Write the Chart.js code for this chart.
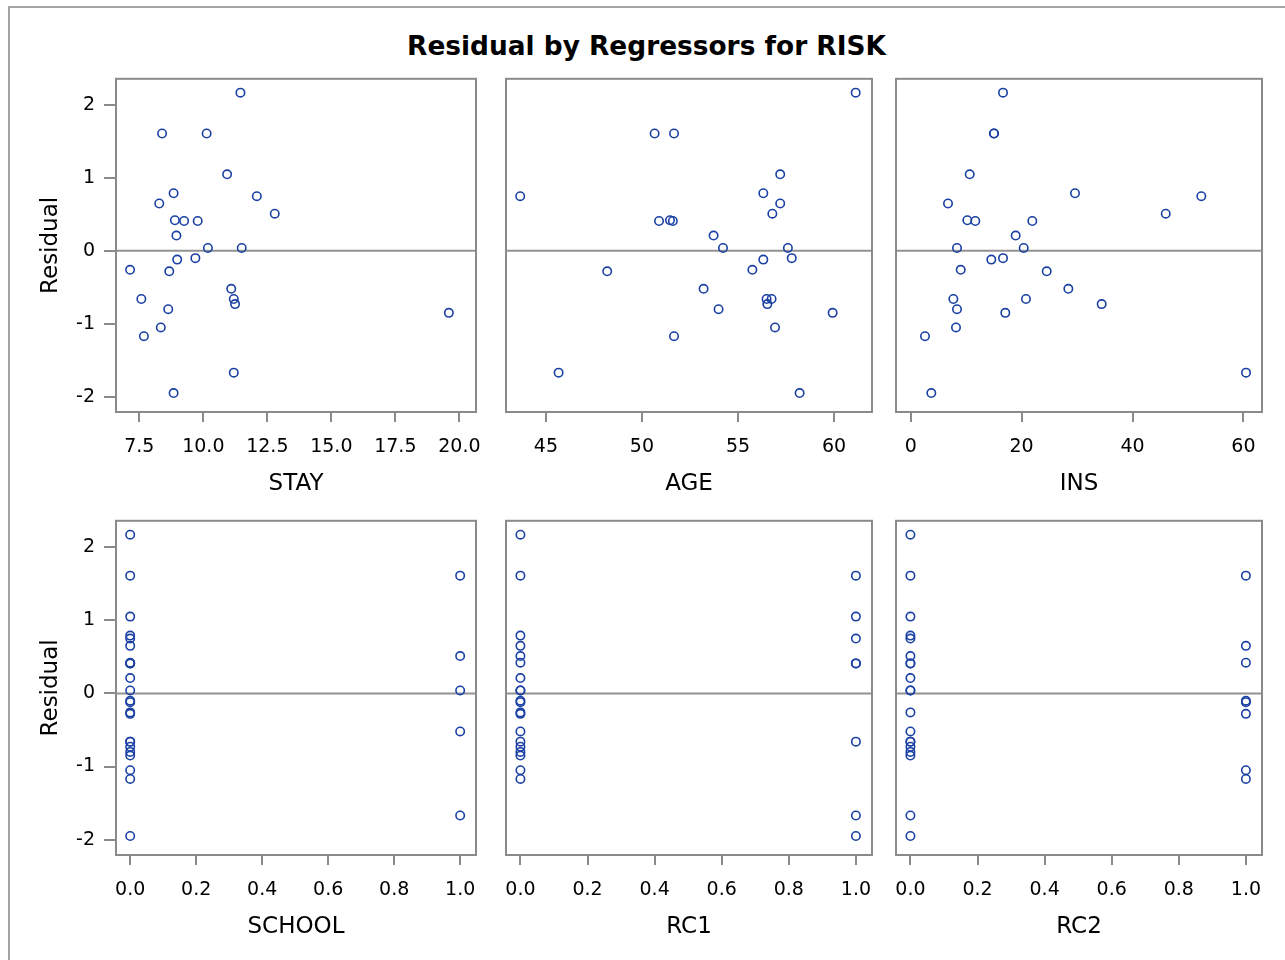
<!DOCTYPE html>
<html lang="en">
<head>
<meta charset="UTF-8">
<title>Residual by Regressors for RISK</title>
<script src="https://cdn.jsdelivr.net/npm/chart.js"></script>
<style>
  * { margin: 0; padding: 0; box-sizing: border-box; }
  body { width: 1285px; height: 960px; background: #fff; overflow: hidden; position: relative; font-family: 'DejaVu Sans', sans-serif; }
  .outer { position: absolute; left: 8px; top: 6px; width: 1320px; height: 1000px; border: 2px solid #a3a3a3; }
  h1 { position: absolute; left: 0; width: 1293px; top: 28px; text-align: center; font-size: 26.4px; font-weight: bold; line-height: 36px; color: #000; }
  canvas { position: absolute; }
</style>
</head>
<body>
<div class="outer"></div>
<h1>Residual by Regressors for RISK</h1>

<script>
// one residual per observation, then one array per regressor (same order)
const residual = [2.17, 1.61, 1.61, 1.05, 0.79, 0.75, 0.65, 0.51, 0.42, 0.41, 0.41, 0.21, 0.04, 0.04,
                  -0.10, -0.12, -0.26, -0.28, -0.52, -0.66, -0.66, -0.73, -0.80, -0.85, -1.05, -1.17, -1.67, -1.95];
const stay = [11.45, 8.39, 10.13, 10.93, 8.84, 12.09, 8.28, 12.79, 8.89, 9.25, 9.78, 8.95, 10.18, 11.50,
              9.69, 8.98, 7.14, 8.67, 11.09, 7.58, 11.19, 11.24, 8.63, 19.59, 8.34, 7.68, 11.19, 8.84];
const age = [61.13, 50.66, 51.67, 57.20, 56.32, 43.66, 57.20, 56.79, 51.46, 50.89, 51.61, 53.73, 54.22, 57.60,
             57.80, 56.32, 55.75, 48.19, 53.21, 56.49, 56.75, 56.53, 53.99, 59.93, 56.93, 51.67, 45.66, 58.21];
const ins = [16.65, 15.02, 15.02, 10.64, 29.63, 52.41, 6.73, 45.99, 10.21, 11.65, 21.93, 18.93, 8.35, 20.38,
             16.65, 14.54, 9.02, 24.53, 28.43, 7.69, 20.79, 34.44, 8.35, 17.06, 8.17, 2.58, 60.47, 3.72];
const school = [0, 1, 0, 0, 0, 0, 0, 1, 0, 0, 0, 0, 1, 0, 0, 0, 0, 0, 1, 0, 0, 0, 0, 0, 0, 0, 1, 0];
const rc1    = [0, 0, 1, 1, 0, 1, 0, 0, 0, 1, 1, 0, 0, 0, 0, 0, 0, 0, 0, 0, 1, 0, 0, 0, 0, 0, 1, 1];
const rc2    = [0, 1, 0, 0, 0, 0, 1, 0, 1, 0, 0, 0, 0, 0, 1, 1, 0, 1, 0, 0, 0, 0, 0, 0, 1, 1, 0, 0];

const yTicks = [-2, -1, 0, 1, 2];
const stayTicks = [7.5, 10, 12.5, 15, 17.5, 20];
const ageTicks = [45, 50, 55, 60];
const insTicks = [0, 20, 40, 60];
const dummyTicks = [0, 0.2, 0.4, 0.6, 0.8, 1];

const panels = [
  { name: 'STAY',   x: stay,   ticks: stayTicks,  digits: 1, min: 6.59,   max: 20.65, col: 0, row: 0 },
  { name: 'AGE',    x: age,    ticks: ageTicks,   digits: 0, min: 42.92,  max: 61.98, col: 1, row: 0 },
  { name: 'INS',    x: ins,    ticks: insTicks,   digits: 0, min: -2.65,  max: 63.35, col: 2, row: 0 },
  { name: 'SCHOOL', x: school, ticks: dummyTicks, digits: 1, min: -0.043, max: 1.048, col: 0, row: 1 },
  { name: 'RC1',    x: rc1,    ticks: dummyTicks, digits: 1, min: -0.043, max: 1.048, col: 1, row: 1 },
  { name: 'RC2',    x: rc2,    ticks: dummyTicks, digits: 1, min: -0.043, max: 1.048, col: 2, row: 1 }
];

// frame edges in page pixels
const cols = [[116, 476], [506, 872], [896, 1262]];
const rows = [[77, 412], [519, 855]];

Chart.defaults.font.family = "'DejaVu Sans', sans-serif";
Chart.defaults.color = '#000';

const framePlugin = {
  id: 'frame',
  beforeDatasetsDraw(chart) {
    const { ctx, chartArea: a } = chart;
    const y0 = chart.scales.y.getPixelForValue(0);
    ctx.save();
    ctx.strokeStyle = '#929292';
    ctx.lineWidth = 2;
    ctx.beginPath();
    ctx.moveTo(a.left, y0);
    ctx.lineTo(a.right, y0);
    ctx.stroke();
    ctx.strokeStyle = '#8a8a8a';
    ctx.strokeRect(a.left, a.top, a.right - a.left, a.bottom - a.top);
    ctx.restore();
  }
};

panels.forEach(p => {
  const [fl, fr] = cols[p.col];
  const [ft, fb] = rows[p.row];
  const yW = p.col === 0 ? 85 : 0;
  const padL = p.col === 0 ? 0 : 20, padR = 24, padT = 4, xH = 88;

  const canvas = document.createElement('canvas');
  canvas.width = padL + yW + (fr - fl) + padR;
  canvas.height = padT + (fb - ft) + xH;
  canvas.style.left = (fl - yW - padL) + 'px';
  canvas.style.top = (ft - padT) + 'px';
  document.body.appendChild(canvas);

  new Chart(canvas, {
    type: 'scatter',
    data: {
      datasets: [{
        data: p.x.map((v, i) => ({ x: v, y: residual[i] })),
        pointStyle: 'circle',
        radius: 4.2,
        hoverRadius: 4.2,
        borderWidth: 1.6,
        borderColor: '#1a40a4',
        backgroundColor: 'rgba(0,0,0,0)'
      }]
    },
    options: {
      responsive: false,
      animation: false,
      devicePixelRatio: 1,
      layout: { padding: { left: padL, right: padR, top: padT, bottom: 0 } },
      plugins: { legend: { display: false }, tooltip: { enabled: false } },
      scales: {
        x: {
          type: 'linear',
          min: p.min,
          max: p.max,
          afterBuildTicks: s => { s.ticks = p.ticks.map(v => ({ value: v })); },
          afterFit: s => { s.height = xH; s.paddingLeft = 0; s.paddingRight = 0; },
          border: { display: false },
          grid: { drawOnChartArea: false, drawTicks: true, tickLength: 10, color: '#8a8a8a', lineWidth: 2 },
          ticks: {
            autoSkip: false, maxRotation: 0, padding: 14,
            font: { size: 19 },
            callback: v => Number(v).toFixed(p.digits)
          },
          title: { display: true, text: p.name, font: { size: 23 }, padding: { top: 0, bottom: 2 } }
        },
        y: {
          type: 'linear',
          display: p.col === 0,
          min: -2.21,
          max: 2.36,
          afterBuildTicks: s => { s.ticks = yTicks.map(v => ({ value: v })); },
          afterFit: s => { s.width = yW; s.paddingTop = 0; s.paddingBottom = 0; },
          border: { display: false },
          grid: { drawOnChartArea: false, drawTicks: true, tickLength: 12, color: '#8a8a8a', lineWidth: 2 },
          ticks: { padding: 9, font: { size: 19 }, callback: v => String(v) },
          title: { display: true, text: 'Residual', font: { size: 23 }, padding: { top: 6, bottom: 0 } }
        }
      }
    },
    plugins: [framePlugin]
  });
});
</script>
</body>
</html>
